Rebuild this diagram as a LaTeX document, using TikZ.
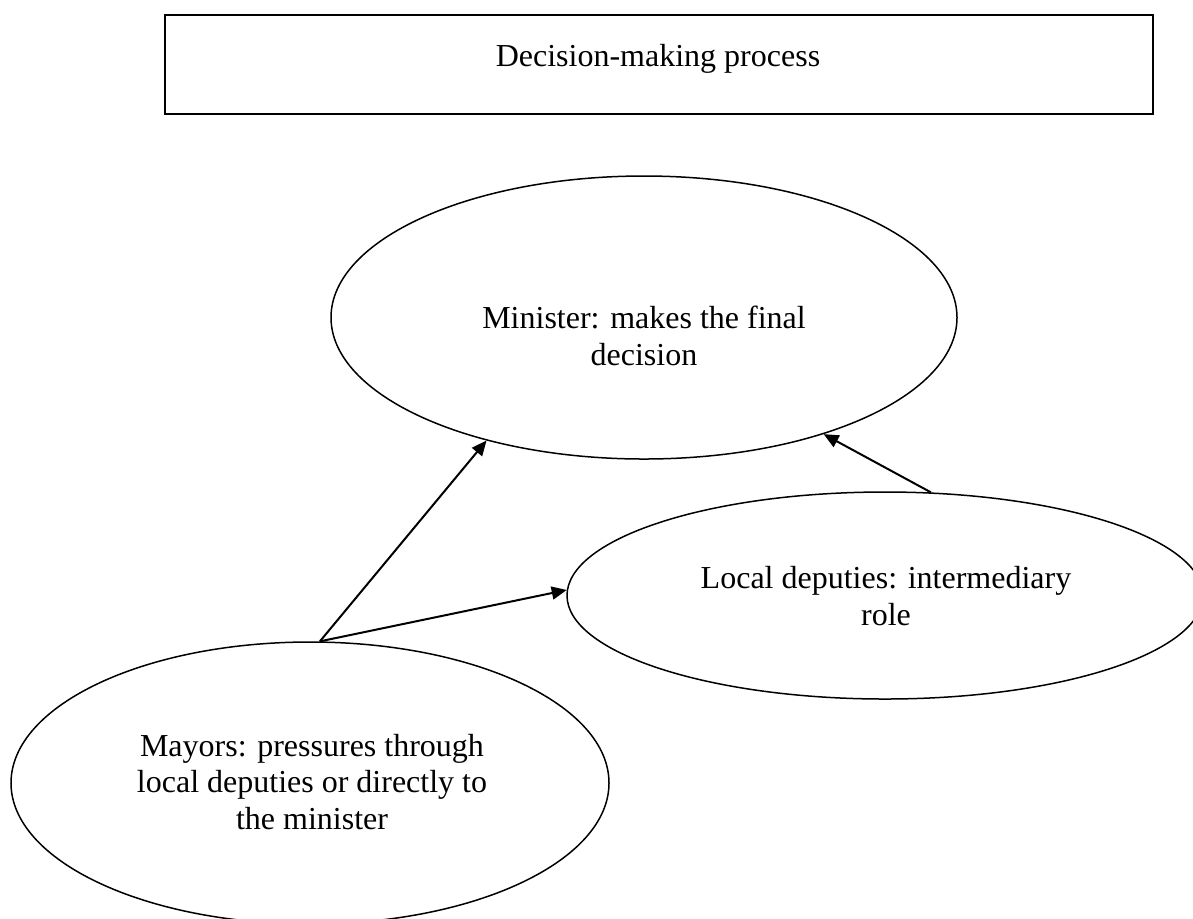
\documentclass[tikz,border=0pt]{standalone}
\usepackage{fontspec}
\setmainfont{Liberation Serif}
\usetikzlibrary{shapes.geometric,arrows.meta}
\tikzset{
  oval/.style={draw=black, line width=0.75pt, ellipse, inner sep=0pt},
  label text/.style={align=center, inner sep=0pt, font=\fontsize{16}{18.4}\selectfont},
  link/.style={draw=black, line width=1pt, -{Triangle[length=7.5pt,width=6.5pt]}},
  titlebox/.style={draw=black, line width=1.15pt, rectangle, inner sep=0pt}
}
\begin{document}
\begin{tikzpicture}[x=0.5pt,y=-0.5pt]
\useasboundingbox (0,0) rectangle (1193,918);
% title box
\node[titlebox, minimum width=494pt, minimum height=49.5pt] (box) at (659,64.5) {};
\node[label text, anchor=base] (title) at (658,66) {Decision-making process};
% ellipses
\node[oval, minimum width=313pt, minimum height=141.5pt] (minister) at (644,317.5) {};
\node[oval, minimum width=318pt, minimum height=103.5pt] (deputies) at (885,595.5) {};
\node[oval, minimum width=299pt, minimum height=141pt] (mayors) at (310,783) {};
% texts
\node[label text] (tmin) at (644,336) {Minister: makes the final\\decision};
\node[label text] (tdep) at (886,596) {Local deputies: intermediary\\role};
\node[label text] (tmay) at (312,782) {Mayors: pressures through\\local deputies or directly to\\the minister};
% connectors
\draw[link] (mayors.86) -- (minister.218);
\draw[link] (mayors.86) -- (deputies.179);
\draw[link] (deputies.66) -- (minister.327);
\end{tikzpicture}
\end{document}
